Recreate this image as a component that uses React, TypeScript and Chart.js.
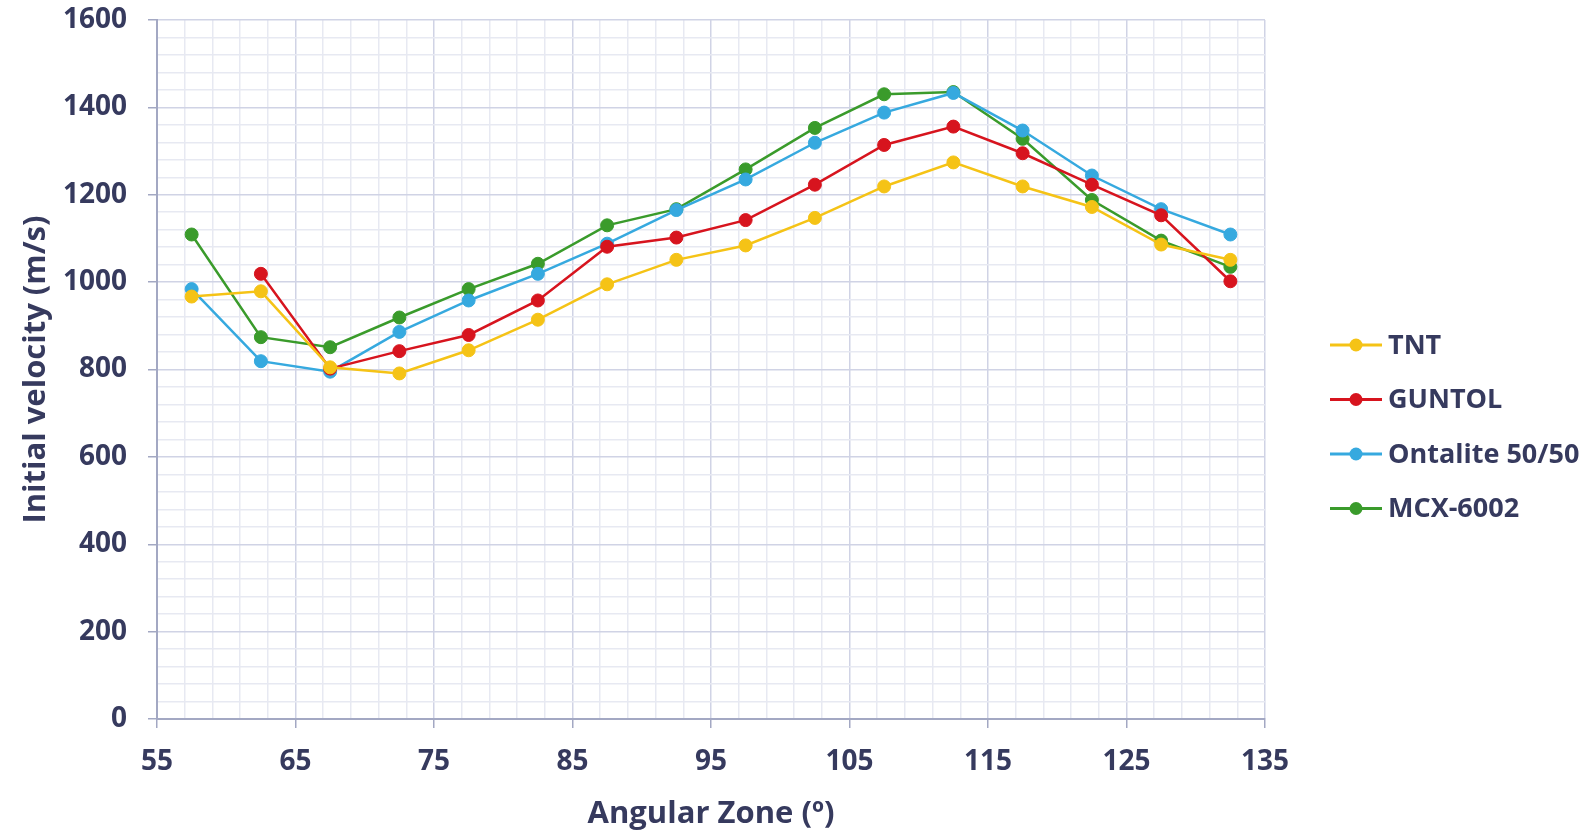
import React, { useEffect, useRef } from "react";
import { Chart, registerables } from "chart.js";

Chart.register(...registerables);

const angularZones = [57.5, 62.5, 67.5, 72.5, 77.5, 82.5, 87.5, 92.5, 97.5, 102.5, 107.5, 112.5, 117.5, 122.5, 127.5, 132.5];
const tntValues = [967, 979, 805, 791, 844, 914, 995, 1051, 1084, 1147, 1219, 1274, 1219, 1172, 1086, 1051];
const guntolValues = [null, 1019, 802, 842, 879, 958, 1081, 1102, 1142, 1223, 1314, 1356, 1295, 1223, 1153, 1002];
const ontaliteValues = [984, 819, 795, 886, 958, 1019, 1088, 1165, 1235, 1319, 1388, 1433, 1347, 1244, 1167, 1109];
const mcxValues = [1109, 874, 851, 919, 984, 1042, 1130, 1167, 1258, 1353, 1430, 1435, 1328, 1188, 1095, 1035];

const seriesNames = ["TNT", "GUNTOL", "Ontalite 50/50", "MCX-6002"];
const seriesColors = ["#f5c316", "#d7141e", "#36a9df", "#3a9b2b"];
const seriesValues = [tntValues, guntolValues, ontaliteValues, mcxValues];

const xTickLabels = [55, 65, 75, 85, 95, 105, 115, 125, 135];
const yTickLabels = [0, 200, 400, 600, 800, 1000, 1200, 1400, 1600];

const TEXT = "#363a5e";
const FONT = "'Open Sans', sans-serif";
const MAJOR = "#d0d3e5";
const MINOR = "#e7e9f2";
const AXIS = "#a3a8c3";

const legendPlugin = {
  id: "sideLegend",
  afterDraw(chart: any) {
    const ctx = chart.ctx;
    const x0 = 1330;
    const y0 = 345;
    const gap = 54.5;
    ctx.save();
    chart.data.datasets.forEach((ds: any, i: number) => {
      const y = y0 + i * gap;
      ctx.strokeStyle = ds.borderColor;
      ctx.lineWidth = 3;
      ctx.beginPath();
      ctx.moveTo(x0, y);
      ctx.lineTo(x0 + 52, y);
      ctx.stroke();
      ctx.fillStyle = ds.backgroundColor;
      ctx.beginPath();
      ctx.arc(x0 + 26, y, 6.5, 0, Math.PI * 2);
      ctx.fill();
      ctx.fillStyle = TEXT;
      ctx.font = `bold 27px ${FONT}`;
      ctx.textAlign = "left";
      ctx.textBaseline = "middle";
      ctx.fillText(ds.label, x0 + 58, y + 1);
    });
    ctx.restore();
  },
};

export default function App() {
  const ref = useRef<HTMLCanvasElement>(null);
  useEffect(() => {
    if (!ref.current) return;
    const chart = new Chart(ref.current, {
      type: "line",
      data: {
        datasets: seriesNames.map((name, i) => ({
          label: name,
          data: angularZones.map((x, j) => ({ x, y: seriesValues[i][j] })),
          borderColor: seriesColors[i],
          backgroundColor: seriesColors[i],
          pointBackgroundColor: seriesColors[i],
          pointBorderColor: seriesColors[i],
          borderWidth: 2.5,
          pointRadius: 6.5,
          pointBorderWidth: 1,
          tension: 0,
          spanGaps: false,
        })),
      },
      options: {
        animation: false,
        responsive: false,
        layout: { padding: { left: 10, top: 20, right: 325, bottom: 0 } },
        plugins: { legend: { display: false }, tooltip: { enabled: false } },
        scales: {
          x: {
            type: "linear",
            min: 55,
            max: 135,
            afterFit(scale: any) {
              scale.height = 114;
            },
            border: { color: AXIS, width: 2 },
            grid: {
              color: (c: any) => ((c.tick.value - 55) % 10 === 0 ? MAJOR : MINOR),
              tickColor: (c: any) => ((c.tick.value - 55) % 10 === 0 ? AXIS : "rgba(0,0,0,0)"),
              tickLength: 9,
              lineWidth: 1.5,
            },
            ticks: {
              stepSize: 2,
              autoSkip: false,
              maxRotation: 0,
              padding: 17,
              color: TEXT,
              font: { family: FONT, size: 28, weight: "bold" },
              callback: (v: any) => (xTickLabels.includes(Number(v)) ? String(v) : ""),
            },
            title: {
              display: true,
              text: "Angular Zone (º)",
              color: TEXT,
              font: { family: FONT, size: 31, weight: "bold" },
              padding: { top: 0, bottom: 0 },
            },
          },
          y: {
            type: "linear",
            min: 0,
            max: 1600,
            afterFit(scale: any) {
              scale.width = 147;
              scale.paddingTop = 0;
              scale.paddingBottom = 0;
            },
            border: { color: AXIS, width: 2 },
            grid: {
              color: (c: any) => (c.tick.value % 200 === 0 ? MAJOR : MINOR),
              tickColor: (c: any) => (c.tick.value % 200 === 0 ? AXIS : "rgba(0,0,0,0)"),
              tickLength: 9,
              lineWidth: 1.5,
            },
            ticks: {
              stepSize: 40,
              autoSkip: false,
              padding: 21,
              color: TEXT,
              font: { family: FONT, size: 28, weight: "bold" },
              callback: (v: any) => (yTickLabels.includes(Number(v)) ? String(v) : ""),
            },
            title: {
              display: true,
              text: "Initial velocity (m/s)",
              color: TEXT,
              font: { family: FONT, size: 31, weight: "bold" },
              padding: { top: 8, bottom: 0 },
            },
          },
        },
      },
      plugins: [legendPlugin],
    } as any);
    return () => chart.destroy();
  }, []);
  return (
    <div style={{ position: "fixed", left: 0, top: 0, width: 1590, height: 833, background: "#fff" }}>
      <canvas ref={ref} width={1590} height={833} style={{ display: "block" }} />
    </div>
  );
}
